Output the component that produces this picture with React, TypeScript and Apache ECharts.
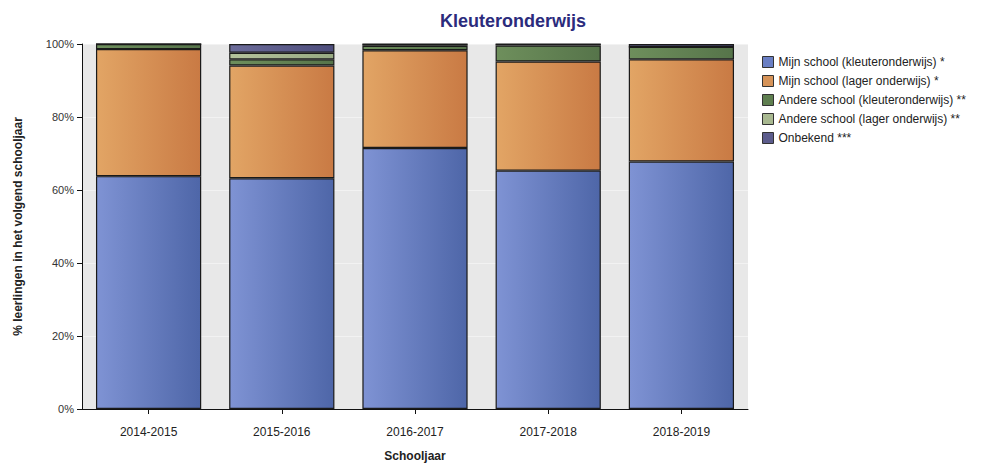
import React, { useEffect, useRef } from "react";
import * as echarts from "echarts";

const categories = ["2014-2015", "2015-2016", "2016-2017", "2017-2018", "2018-2019"];
const mijnKleuter = [63.8, 63.2, 71.5, 65.3, 67.8];
const mijnLager = [34.8, 30.9, 26.8, 29.9, 28.0];
const andereKleuter = [1.4, 1.7, 1.2, 4.4, 3.4];
const andereLager = [0, 1.8, 0.5, 0.4, 0];
const onbekend = [0, 2.4, 0, 0, 0.8];
const yTicks = [0, 20, 40, 60, 80, 100];

const seriesNames = [
  "Mijn school (kleuteronderwijs) *",
  "Mijn school (lager onderwijs) *",
  "Andere school (kleuteronderwijs) **",
  "Andere school (lager onderwijs) **",
  "Onbekend ***",
];

const grad = (a: string, b: string) =>
  new echarts.graphic.LinearGradient(0, 0, 1, 0, [
    { offset: 0, color: a },
    { offset: 1, color: b },
  ]);

export default function App() {
  const ref = useRef<HTMLDivElement>(null);
  useEffect(() => {
    if (!ref.current) return;
    const chart = echarts.init(ref.current, null, { renderer: "svg" });
    const font = "'Liberation Sans', Arial, sans-serif";
    const datas = [mijnKleuter, mijnLager, andereKleuter, andereLager, onbekend];
    const colors = [
      grad("#7f93d4", "#4e66a8"),
      grad("#e2a565", "#c97a44"),
      grad("#6e8f5c", "#56744a"),
      grad("#b4c29c", "#97a982"),
      grad("#6c6c9a", "#4d4d7c"),
    ];
    const legendColors = ["#6a7fc4", "#d69358", "#5f7f50", "#a8b890", "#5c5c8c"];
    chart.setOption({
      animation: false,
      title: {
        text: "Kleuteronderwijs",
        left: 508,
        textAlign: "center",
        top: 7,
        textStyle: { fontFamily: font, fontSize: 18, fontWeight: "bold", color: "#2b2b7c" },
      },
      legend: {
        orient: "vertical",
        left: 757,
        top: 51,
        itemWidth: 11,
        itemHeight: 11,
        itemGap: 7,
        icon: "rect",
        textStyle: { fontFamily: font, fontSize: 12, color: "#222" },
        data: seriesNames.map((n, i) => ({
          name: n,
          itemStyle: { color: legendColors[i], borderColor: "#333", borderWidth: 1 },
        })),
      },
      grid: {
        left: 82,
        right: 259,
        top: 44,
        bottom: 56,
        show: true,
        backgroundColor: "#e8e8e8",
        borderWidth: 0,
      },
      xAxis: {
        type: "category",
        data: categories,
        name: "Schooljaar",
        nameLocation: "middle",
        nameGap: 41,
        nameTextStyle: { fontFamily: font, fontSize: 12, fontWeight: "bold", color: "#222" },
        axisLine: { show: true, lineStyle: { color: "#111", width: 1 } },
        axisTick: { show: true, alignWithLabel: true, length: 5, lineStyle: { color: "#111" } },
        axisLabel: { fontFamily: font, fontSize: 12, color: "#222", margin: 17 },
      },
      yAxis: {
        type: "value",
        min: yTicks[0],
        max: yTicks[yTicks.length - 1],
        interval: 20,
        name: "% leerlingen in het volgend schooljaar",
        nameLocation: "middle",
        nameGap: 58,
        nameRotate: 90,
        nameTextStyle: { fontFamily: font, fontSize: 12, fontWeight: "bold", color: "#222" },
        axisLine: { show: true, lineStyle: { color: "#111", width: 1 } },
        axisTick: { show: true, length: 5, lineStyle: { color: "#111" } },
        axisLabel: { fontFamily: font, fontSize: 11, color: "#333", formatter: "{value}%", margin: 8 },
        splitLine: { show: true, lineStyle: { color: "#f2f2f2", width: 1 } },
      },
      series: seriesNames.map((n, i) => ({
        name: n,
        type: "bar",
        stack: "total",
        barCategoryGap: "21%",
        data: datas[i],
        itemStyle: { color: colors[i], borderColor: "#1a1a1a", borderWidth: 1.2 },
      })),
    });
    return () => chart.dispose();
  }, []);
  return <div ref={ref} style={{ width: 1007, height: 467, position: "absolute", left: 0, top: 0 }} />;
}
